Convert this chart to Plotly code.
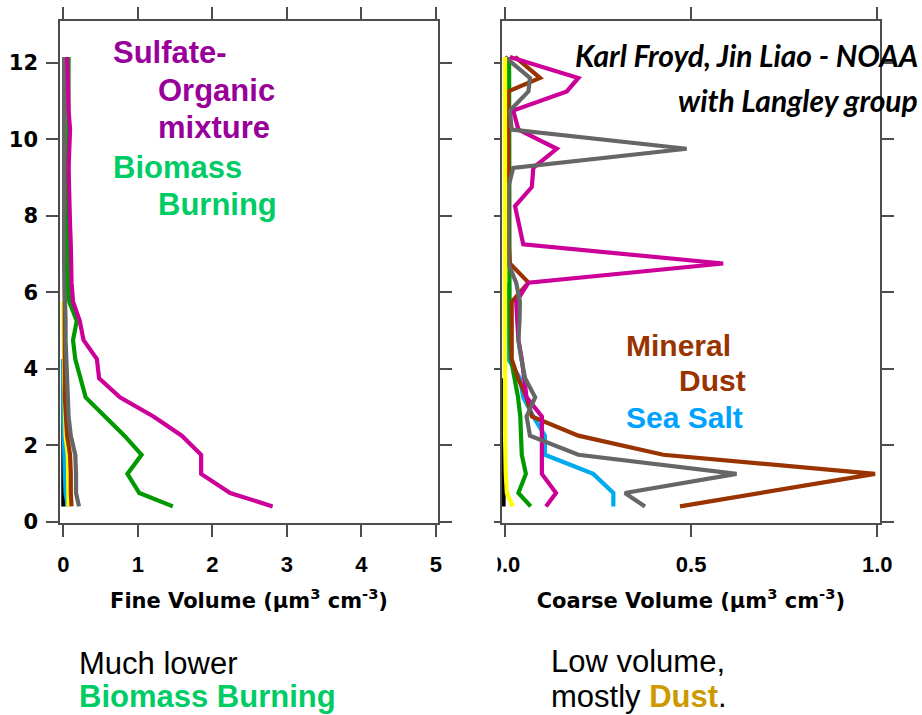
import plotly.graph_objects as go

# Altitude bins (km) shared by every profile
ALT_KM = [0.4, 0.75, 1.25, 1.75, 2.25, 2.75, 3.25, 3.75, 4.25, 4.75, 5.25, 5.75,
          6.25, 6.75, 7.25, 7.75, 8.25, 8.75, 9.25, 9.75, 10.25, 10.75, 11.25, 11.6, 12.15]

# Fine-mode volume (um^3 cm^-3) by particle type
FINE_SULFATE_ORGANIC = [2.81, 2.24, 1.85, 1.85, 1.59, 1.21, 0.76, 0.48, 0.45, 0.27, 0.22, 0.13,
                        0.11, 0.11, 0.10, 0.09, 0.08, 0.08, 0.07, 0.08, 0.09, 0.07, 0.07, 0.06, 0.05]
FINE_BIOMASS = [1.47, 1.02, 0.86, 1.05, 0.82, 0.56, 0.30, 0.23, 0.16, 0.13, 0.18, 0.08,
                0.06, 0.06, 0.06, 0.06, 0.06, 0.06, 0.06, 0.06, 0.06, 0.06, 0.06, 0.06, 0.07]
FINE_GRAY = [0.21, 0.17, 0.17, 0.16, 0.10, 0.07, 0.06, 0.05, 0.03, 0.03, 0.03, 0.02,
             0.01, 0.01, 0.01, 0.01, 0.01, 0.01, 0.01, 0.01, 0.01, 0.01, 0.01, 0.01, 0.01]
FINE_DUST = [0.11, 0.10, 0.10, 0.09, 0.05, 0.03, 0.02, 0.02, 0.02, 0.02, 0.02, 0.01,
             0.01, 0.01, 0.01, 0.01, 0.01, 0.01, 0.01, 0.01, 0.01, 0.01, 0.01, 0.01, 0.01]
FINE_YELLOW = [0.07, 0.07, 0.07, 0.06, 0.03, 0.02, 0.02, 0.01, 0.01, 0.01, 0.01, 0.0] + [None] * 13
FINE_SEA_SALT = [0.06, 0.03, 0.02, 0.01, 0.005, 0.0, 0.0, 0.0, -0.005] + [None] * 16
FINE_BLACK = [0.0] * 9 + [None] * 16

# Coarse-mode volume (um^3 cm^-3) by particle type
COARSE_SULFATE_ORGANIC = [0.110, 0.137, 0.099, 0.099, 0.099, 0.099, 0.058, 0.052, 0.045, 0.036,
                          0.032, 0.030, 0.063, 0.586, 0.049, 0.039, 0.027, 0.072, 0.076, 0.139,
                          0.036, 0.022, 0.166, 0.197, 0.013]
COARSE_GRAY = [0.376, 0.322, 0.622, 0.197, 0.067, 0.058, 0.081, 0.054, 0.044, 0.036, 0.039,
               0.040, 0.030, 0.009, 0.009, 0.009, 0.009, 0.009, 0.022, 0.488, 0.018, 0.013,
               0.063, 0.067, 0.0]
COARSE_DUST = [0.47, 0.68, 0.994, 0.425, 0.197, 0.072, 0.058, 0.035, 0.018, 0.018, 0.018,
               0.018, 0.063, 0.013, 0.010, 0.010, 0.010, 0.010, 0.010, 0.010, 0.010, 0.010,
               0.009, 0.094, 0.027]
COARSE_SEA_SALT = [0.291, 0.291, 0.237, 0.107, 0.107, 0.076, 0.049, 0.040, 0.009, 0.007,
                   0.007, 0.007, 0.007] + [None] * 12
COARSE_BIOMASS = [0.069, 0.036, 0.056, 0.045, 0.043, 0.041, 0.035, 0.025, 0.016, 0.013, 0.012,
                  0.012, 0.012, 0.012, 0.012, 0.011, 0.011, 0.011, 0.011, 0.011, 0.011, 0.011,
                  0.011, 0.011, 0.011]
COARSE_YELLOW = [0.021, 0.005, 0.002] + [0.0] * 22
COARSE_BLACK = [-0.004] * 8 + [None] * 17

# Axis ticks
FINE_TICKS = [0, 1, 2, 3, 4, 5]
COARSE_TICKS = [0, 0.5, 1.0]
COARSE_TICK_TEXT = ["0.0", "0.5", "1.0"]
ALT_TICKS = [0, 2, 4, 6, 8, 10, 12]

COLORS = {
    "sulfate": "#CC0099",
    "biomass": "#009900",
    "gray": "#666666",
    "dust": "#993300",
    "yellow": "#FFFF00",
    "sea_salt": "#00AAEE",
    "black": "#000000",
}

W, H = 922, 715


def px(x):
    return x / W


def py(y):
    return 1 - y / H


fig = go.Figure()


def add_profile(values, color, name, xaxis, yaxis):
    fig.add_trace(go.Scatter(
        x=values, y=ALT_KM, mode="lines", name=name,
        line=dict(color=color, width=4.2), connectgaps=False,
        xaxis=xaxis, yaxis=yaxis, showlegend=False,
    ))


# Fine panel
add_profile(FINE_BLACK, COLORS["black"], "Black", "x", "y")
add_profile(FINE_SEA_SALT, COLORS["sea_salt"], "Sea Salt", "x", "y")
add_profile(FINE_YELLOW, COLORS["yellow"], "Yellow", "x", "y")
add_profile(FINE_DUST, COLORS["dust"], "Mineral Dust", "x", "y")
add_profile(FINE_GRAY, COLORS["gray"], "Gray", "x", "y")
add_profile(FINE_BIOMASS, COLORS["biomass"], "Biomass Burning", "x", "y")
add_profile(FINE_SULFATE_ORGANIC, COLORS["sulfate"], "Sulfate-Organic", "x", "y")

# Coarse panel
add_profile(COARSE_BLACK, COLORS["black"], "Black", "x2", "y2")
add_profile(COARSE_SEA_SALT, COLORS["sea_salt"], "Sea Salt", "x2", "y2")
add_profile(COARSE_BIOMASS, COLORS["biomass"], "Biomass Burning", "x2", "y2")
add_profile(COARSE_DUST, COLORS["dust"], "Mineral Dust", "x2", "y2")
add_profile(COARSE_SULFATE_ORGANIC, COLORS["sulfate"], "Sulfate-Organic", "x2", "y2")
add_profile(COARSE_GRAY, COLORS["gray"], "Gray", "x2", "y2")
add_profile(COARSE_YELLOW, COLORS["yellow"], "Yellow", "x2", "y2")
# keeps the right-hand tick axis of the coarse panel alive
fig.add_trace(go.Scatter(x=[], y=[], xaxis="x2", yaxis="y3", showlegend=False))

AX_COLOR = "#4d4d4d"
base_axis = dict(showline=True, linecolor=AX_COLOR, linewidth=1.5, ticks="outside",
                 tickcolor=AX_COLOR, tickwidth=1.5, ticklen=12, showgrid=False,
                 zeroline=False, automargin=False)
x_tick_font = dict(family="Liberation Sans, Arial, sans-serif", size=22, color="black",
                   weight="bold")
y_tick_font = dict(family="DejaVu Sans, sans-serif", size=21, color="black", weight="bold")
title_font = dict(family="DejaVu Sans, sans-serif", size=21, color="black", weight="bold")

Y_RANGE = [-0.034, 13.09]
Y_DOMAIN = [py(523), py(21)]

fig.update_layout(
    width=W, height=H, autosize=False,
    margin=dict(l=0, r=0, t=0, b=0, pad=0),
    paper_bgcolor="white", plot_bgcolor="white",
    showlegend=False,
    xaxis=dict(base_axis, domain=[px(60), px(438)], range=[-0.045, 5.03],
               tickvals=FINE_TICKS, mirror="ticks", anchor="y",
               tickfont=x_tick_font, ticklabelstandoff=9,
               title=dict(text="Fine Volume (µm<sup>3</sup> cm<sup>-3</sup>)",
                          font=title_font, standoff=17)),
    yaxis=dict(base_axis, domain=Y_DOMAIN, range=Y_RANGE, tickvals=ALT_TICKS,
               mirror="ticks", anchor="x", tickfont=y_tick_font, ticklabelstandoff=4),
    xaxis2=dict(base_axis, domain=[px(501.7), px(880)], range=[-0.0089, 1.0073],
                tickvals=COARSE_TICKS, ticktext=COARSE_TICK_TEXT, mirror="ticks",
                anchor="y2", tickfont=x_tick_font, ticklabelstandoff=9,
                title=dict(text="Coarse Volume (µm<sup>3</sup> cm<sup>-3</sup>)",
                           font=title_font, standoff=17)),
    yaxis2=dict(base_axis, domain=Y_DOMAIN, range=Y_RANGE, tickvals=ALT_TICKS,
                ticklen=6, mirror=False, anchor="x2", showticklabels=False),
    yaxis3=dict(base_axis, domain=Y_DOMAIN, range=Y_RANGE, tickvals=ALT_TICKS,
                overlaying="y2", side="right", anchor="x2", showticklabels=False),
)

# The left panel's margin hides the left half of the coarse "0.0" label
fig.add_shape(type="rect", xref="paper", yref="paper", layer="above",
              x0=px(468), x1=px(497.5), y0=py(572), y1=py(542),
              fillcolor="white", line=dict(width=0))

ARIAL = "Liberation Sans, Arial, sans-serif"


def label(text, x, baseline, size, color, family=ARIAL, anchor="left", bold=True,
          italic=False):
    style = dict(family=family, size=size, color=color)
    if bold:
        style["weight"] = "bold"
    if italic:
        style["style"] = "italic"
    fig.add_annotation(text=text, xref="paper", yref="paper", x=px(x),
                       y=py(baseline - 0.34 * size), xanchor=anchor, yanchor="middle",
                       showarrow=False, font=style)


PURPLE = "#990099"
GREEN_TEXT = "#00CC66"
BROWN = "#993300"
SEA_BLUE = "#00A2FF"
GOLD = "#CC9900"

label("Sulfate-", 111, 63, 31, PURPLE)
label("Organic", 156, 101, 31, PURPLE)
label("mixture", 156, 138, 31, PURPLE)
label("Biomass", 111, 178, 31, GREEN_TEXT)
label("Burning", 156, 215, 31, GREEN_TEXT)

label("Karl Froyd, Jin Liao - NOAA", 920, 65, 30, "black", family="Lato, sans-serif",
      anchor="right", italic=True)
label("with Langley group", 920, 110, 30, "black", family="Lato, sans-serif",
      anchor="right", italic=True)

label("Mineral", 624, 356, 30, BROWN)
label("Dust", 677, 391, 30, BROWN)
label("Sea Salt", 624, 428, 30, SEA_BLUE)

label("Much lower", 77, 674, 31, "black", bold=False)
label("Biomass Burning", 77, 707, 31, GREEN_TEXT)
label("Low volume,", 549, 672, 31, "black", bold=False)
label(f"mostly <span style='color:{GOLD}'><b>Dust</b></span>.", 549, 707, 31, "black",
      bold=False)

fig.write_html("out.html")
